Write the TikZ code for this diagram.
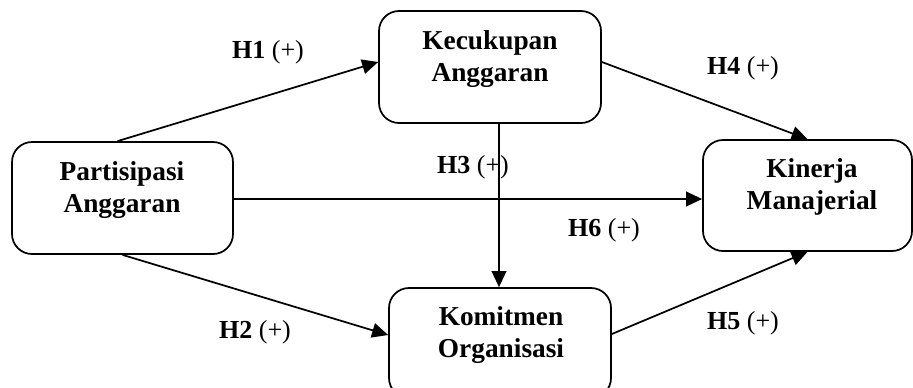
\documentclass[tikz,border=0pt]{standalone}
\usepackage{fontspec}
\setmainfont{Liberation Serif}
\usetikzlibrary{arrows.meta,calc}
\begin{document}
\begin{tikzpicture}[x=0.75pt,y=-0.75pt,
  box/.style={draw,line width=1.3pt,rounded corners=15pt,inner sep=0pt},
  boxtext/.style={align=center,font=\fontsize{20.5pt}{24pt}\selectfont\bfseries,inner sep=0pt},
  hyp/.style={font=\fontsize{19.5pt}{22pt}\selectfont,inner sep=0pt},
  arr/.style={line width=1.3pt,-{Triangle[length=12pt,width=11pt]}}]
\useasboundingbox (0,0) rectangle (913,387);
% boxes
\node[box,minimum width={221*0.75pt},minimum height={112*0.75pt}] (pa) at (122.5,198) {};
\node[box,minimum width={222*0.75pt},minimum height={112*0.75pt}] (ka) at (490,67) {};
\node[box,minimum width={209*0.75pt},minimum height={111*0.75pt}] (km) at (807.5,195.5) {};
\node[box,minimum width={222*0.75pt},minimum height={110*0.75pt}] (ko) at (500,343) {};
% box texts
\node[boxtext] (pat) at (122,190) {Partisipasi\\Anggaran};
\node[boxtext] (kat) at (490,59) {Kecukupan\\Anggaran};
\node[boxtext] (kmt) at (812,187) {Kinerja\\Manajerial};
\node[boxtext] (kot) at (501,335) {Komitmen\\Organisasi};
% connectors
\draw[arr] ($(pa.north)+(-5,0)$) -- ($(ka.west)+(0,-5)$);
\draw[arr] ($(pa.south)+(0,0)$) -- ($(ko.west)+(0,-8)$);
\draw[arr] ($(ka.south)+(9,0)$) -- ($(ko.north)+(-1,0)$);
\draw[arr] ($(ka.east)+(0,-5)$) -- (km.north);
\draw[arr] ($(ko.east)+(0,-9)$) -- ($(km.south)+(0,0)$);
\draw[arr] ($(pa.east)+(0,1)$) -- ($(km.west)+(0,3.5)$);
% labels
\node[hyp] (h1) at (268,52) {\textbf{H1} (+)};
\node[hyp] (h2) at (255,332) {\textbf{H2} (+)};
\node[hyp] (h3) at (473,167) {\textbf{H3} (+)};
\node[hyp] (h4) at (743,68) {\textbf{H4} (+)};
\node[hyp] (h5) at (743,323) {\textbf{H5} (+)};
\node[hyp] (h6) at (604,230) {\textbf{H6} (+)};
\end{tikzpicture}
\end{document}
